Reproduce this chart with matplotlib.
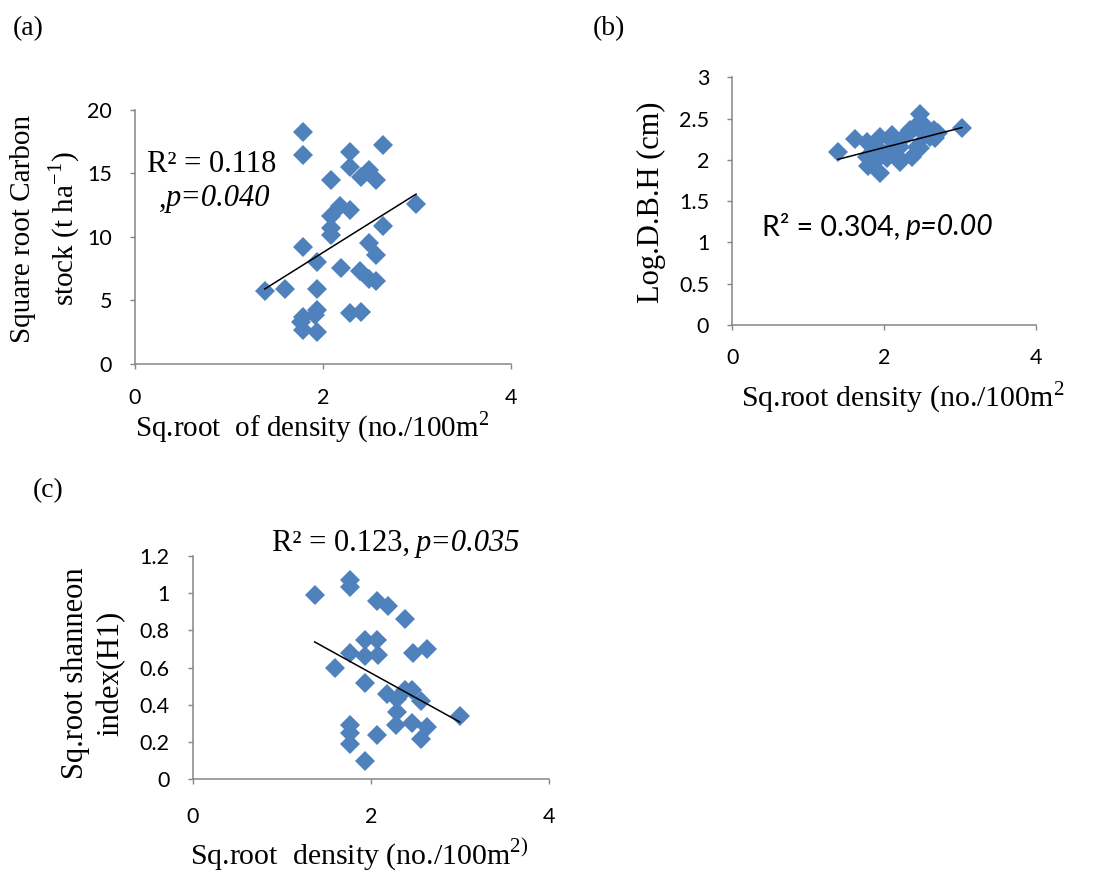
"""
    Three scatter panels with linear trendlines (Excel style)
"""
import numpy as np
from matplotlib import pyplot as plt

# (a) square root carbon stock vs square root density
xa = [1.79, 1.79, 2.29, 2.64, 2.08, 2.29, 2.40, 2.49, 2.56, 2.99, 2.18, 2.29,
      2.08, 2.09, 2.08, 2.64, 1.79, 2.49, 2.56, 1.94, 2.19, 2.39, 2.49, 2.56,
      1.38, 1.60, 1.94, 2.29, 2.40, 1.79, 1.94, 1.91, 1.79, 1.94, 1.77]
ya = [18.3, 16.45, 16.7, 17.2, 14.5, 15.5, 14.75, 15.3, 14.5, 12.6, 12.4, 12.1,
      11.6, 10.7, 10.15, 10.85, 9.2, 9.5, 8.55, 8.0, 7.5, 7.3, 6.7, 6.5,
      5.75, 5.9, 5.9, 3.95, 4.1, 3.7, 4.2, 3.8, 2.65, 2.5, 3.3]
fit_a = (4.65, -0.54)          # slope, intercept of the trendline

# (b) log DBH vs square root density
xb = [1.39, 1.61, 1.77, 1.77, 1.79, 1.88, 1.94, 1.94, 1.94, 2.10, 2.08, 2.03,
      2.21, 2.21, 2.25, 2.32, 2.36, 2.34, 2.43, 2.47, 2.47, 2.51, 2.54, 2.60,
      2.65, 2.67, 2.71, 3.02, 2.40, 2.12, 1.86, 2.16]
yb = [2.10, 2.25, 2.22, 2.04, 1.92, 1.98, 1.84, 2.28, 2.12, 2.30, 2.12, 2.02,
      1.98, 2.16, 2.26, 2.32, 2.04, 2.36, 2.16, 2.56, 2.14, 2.44, 2.30, 2.28,
      2.36, 2.26, 2.32, 2.38, 2.40, 2.22, 2.16, 2.06]
fit_b = (0.236, 1.678)

# (c) square root shannon index vs square root density
xc = [1.37, 1.77, 1.77, 2.07, 2.19, 2.39, 1.94, 2.07, 1.77, 1.94, 2.08, 2.47,
      2.63, 1.60, 1.94, 2.18, 2.38, 2.46, 2.56, 2.29, 2.29, 2.28, 2.46, 2.63,
      2.56, 3.00, 1.77, 1.77, 1.77, 2.07, 1.94]
yc = [0.99, 1.07, 1.035, 0.96, 0.93, 0.86, 0.75, 0.75, 0.68, 0.66, 0.67, 0.68,
      0.70, 0.60, 0.52, 0.46, 0.48, 0.48, 0.42, 0.43, 0.36, 0.29, 0.30, 0.28,
      0.215, 0.34, 0.29, 0.25, 0.19, 0.24, 0.10]
fit_c = (-0.264, 1.10)

# ticks
xticks = [0, 2, 4]
yticks_a = [0, 5, 10, 15, 20]
yticks_b = [0, 0.5, 1, 1.5, 2, 2.5, 3]
yticks_c = [0, 0.2, 0.4, 0.6, 0.8, 1, 1.2]

azul = "#4F81BD"
cinza = "#868686"

plt.rcParams["font.family"] = "Liberation Serif"

W, H = 1093, 873
fig = plt.figure(figsize=(W / 100, H / 100), dpi=100)


def ret(esq, topo, dir, base):
    # rectangle in pixels -> figure fraction
    return [esq / W, 1 - base / H, (dir - esq) / W, (base - topo) / H]


def fp(x, y):
    return x / W, 1 - y / H


def painel(rect, x, y, fit, yticks, xpad):
    ax = fig.add_axes(rect)
    ax.plot(x, y, "D", color=azul, ms=9.7, mew=0, clip_on=False)
    xs = np.array([min(x), max(x)])
    ax.plot(xs, fit[0] * xs + fit[1], color="black", lw=1.1)
    ax.set_xlim(0, 4)
    ax.set_ylim(min(yticks), max(yticks))
    ax.set_xticks(xticks, [f"{v:g}" for v in xticks], fontfamily="Lato", fontsize=15.5)
    ax.set_yticks(yticks, [f"{v:g}" for v in yticks], fontfamily="Lato", fontsize=15.5)
    for s in ["top", "right"]:
        ax.spines[s].set_visible(False)
    for s in ["left", "bottom"]:
        ax.spines[s].set_color(cinza)
        ax.spines[s].set_linewidth(1.1)
    ax.tick_params(axis="x", color=cinza, length=3.6, width=1.0, pad=xpad)
    ax.tick_params(axis="y", color=cinza, length=3.6, width=1.0, pad=13)
    return ax


ax_a = painel(ret(135, 110, 511, 363.5), xa, ya, fit_a, yticks_a, 14)
ax_b = painel(ret(732.3, 77.3, 1036.3, 325), xb, yb, fit_b, yticks_b, 13)
ax_c = painel(ret(192.7, 556, 548.7, 779.3), xc, yc, fit_c, yticks_c, 16)

# R² labels
t = ax_a.text(0.13, 15.1, "R² = 0.118", fontsize=22)
t = ax_a.text(0.25, 12.4, ",", fontsize=22)
ax_a.annotate("p=0.040", xy=(1, 0), xycoords=t, va="bottom", fontsize=22, style="italic")

t = ax_b.text(0.39, 1.09, "R² = 0.304,", fontsize=20.5, fontfamily="Lato")
ax_b.annotate("p=0.00", xy=(1, 0), xycoords=t, xytext=(4, 0), textcoords="offset points",
              va="bottom", fontsize=20.5, fontfamily="Lato", style="italic")

t = ax_c.text(0.89, 1.229, "R² = 0.123,", fontsize=22)
ax_c.annotate("p=0.035", xy=(1, 0), xycoords=t, xytext=(4, 0), textcoords="offset points",
              va="bottom", fontsize=22, style="italic")

# axis titles
fig.text(*fp(135, 436), "Sq.root  of density (no./100m$^{\\mathregular{2}}$",
         fontsize=21, va="baseline")
fig.text(*fp(741, 407), "Sq.root density (no./100m$^{\\mathregular{2}}$",
         fontsize=21.5, va="baseline")
fig.text(*fp(190, 865), "Sq.root  density (no./100m$^{\\mathregular{2)}}$",
         fontsize=21.5, va="baseline")

fig.text(*fp(46, 229), "Square root Carbon\nstock (t ha$^{\\mathregular{-1}}$)",
         fontsize=21, rotation=90, ha="center", va="center",
         multialignment="center", linespacing=1.38)
fig.text(*fp(651, 202), "Log.D.B.H (cm)", fontsize=22, rotation=90,
         ha="center", va="center")
fig.text(*fp(93, 673), "Sq.root shanneon\nindex(H1)", fontsize=22, rotation=90,
         ha="center", va="center", multialignment="center", linespacing=1.3)

# panel letters
fig.text(*fp(13, 35), "(a)", fontsize=20, va="baseline")
fig.text(*fp(593, 35), "(b)", fontsize=20, va="baseline")
fig.text(*fp(33, 497), "(c)", fontsize=20, va="baseline")

plt.savefig("out.png", dpi=100)
